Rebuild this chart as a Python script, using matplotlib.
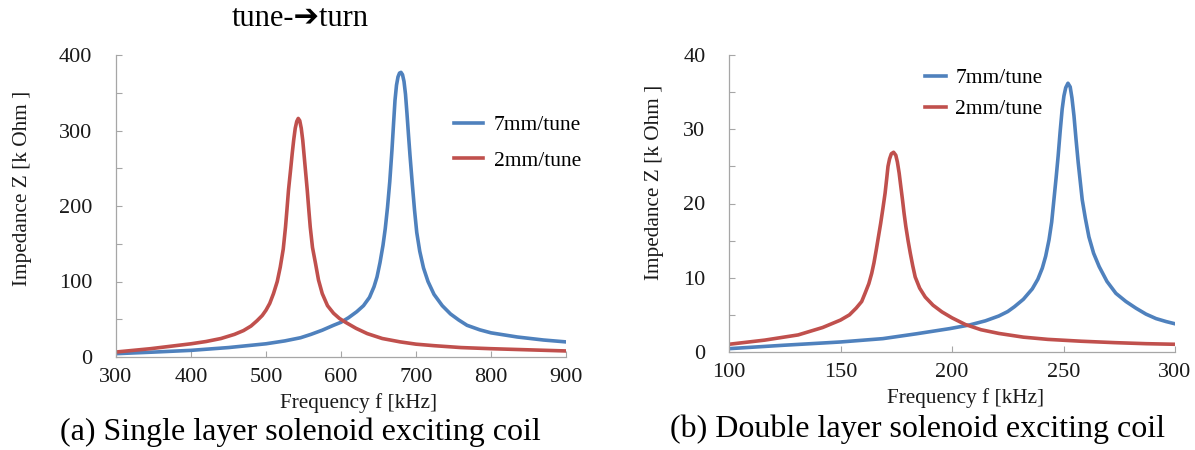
import matplotlib
matplotlib.use("Agg")
import matplotlib.pyplot as plt
from matplotlib.ticker import MultipleLocator

plt.rcParams['font.family'] = ['Liberation Serif', 'DejaVu Serif']

# (a) single layer coil, frequency in kHz, impedance in k Ohm
single_f_7mm = [300, 350, 400, 450, 500, 525, 546, 560, 575, 590, 600, 610, 621,
                630, 638, 644, 648, 652, 656, 659, 662, 665, 668, 670, 672, 674,
                676, 678, 680, 682, 684, 686, 688, 690, 692, 695, 698, 701, 705,
                710, 716, 724, 735, 746, 757, 768, 785, 800, 835, 870, 900]
single_z_7mm = [4.4, 6.5, 8.8, 12.5, 17.5, 21.3, 25.5, 30, 35.5, 42, 46, 52, 60,
                68, 79, 93, 106, 125, 148, 170, 198, 232, 275, 308, 340, 360,
                371, 376, 377, 374, 365, 348, 322, 294, 267, 230, 195, 165, 140,
                118, 100, 83, 68, 57, 49, 42, 36, 32, 26.5, 22.5, 20]

single_f_2mm = [300, 346, 400, 420, 440, 458, 470, 480, 488, 495, 500, 505, 510,
                515, 519, 523, 526, 528, 530, 533, 535, 537, 539, 541, 543, 545,
                547, 549, 551, 553, 555, 557, 559, 562, 566, 570, 575, 582, 590,
                598, 606, 620, 635, 655, 679, 700, 724, 760, 800, 850, 900]
single_z_2mm = [6.6, 11, 17.5, 20.5, 24.5, 30, 35, 41, 48, 55, 62, 71, 84, 100,
                119, 143, 172, 196, 221, 250, 270, 288, 303, 312, 316, 313, 303,
                287, 265, 243, 221, 196, 172, 145, 124, 102, 84, 68, 58, 51, 46,
                38, 31, 24.5, 20, 17, 15, 12.5, 11, 9.5, 8]

# (b) double layer coil
double_f_7mm = [100, 124, 150, 169, 184, 199, 208, 215, 221, 225, 228, 232, 236,
                238.5, 240.5, 242, 243.5, 244.7, 245.7, 246.7, 247.6, 248.5,
                249.4, 250.2, 251, 252, 253, 253.8, 254.7, 255.6, 256.6, 257.5,
                258.4, 259.8, 261.4, 263.5, 266, 269.5, 273.5, 278, 282.5, 287,
                291.5, 296, 300]
double_z_7mm = [0.45, 0.9, 1.35, 1.8, 2.45, 3.15, 3.65, 4.2, 4.85, 5.45, 6.1,
                7.1, 8.5, 9.8, 11.3, 12.9, 15.1, 17.5, 20.5, 23.5, 26.4, 29.7,
                32.7, 34.5, 35.6, 36.2, 35.7, 34.2, 31.8, 28.7, 25.5, 23, 20.5,
                18, 15.5, 13.3, 11.5, 9.5, 7.9, 6.8, 5.9, 5.1, 4.5, 4.1, 3.8]

double_f_2mm = [100, 116, 131, 142, 150, 154, 157, 159.5, 161, 162.7, 164, 165,
                166, 167, 168, 169, 170, 170.7, 171.3, 172, 172.8, 173.8, 174.8,
                175.5, 176.3, 177, 177.8, 178.5, 179.3, 180.3, 181.3, 182.4,
                183.5, 185.5, 188, 191.5, 195.5, 200, 206, 213, 221, 232, 243,
                258, 273, 287, 300]
double_z_2mm = [1.04, 1.6, 2.3, 3.3, 4.3, 5.0, 5.9, 6.8, 7.9, 9.2, 10.6, 12,
                13.7, 15.5, 17.3, 19.3, 21.4, 23.3, 25, 26, 26.7, 26.9, 26.5,
                25.6, 24.1, 22.4, 20.5, 18.7, 16.9, 15, 13.3, 11.6, 10.1, 8.6,
                7.4, 6.3, 5.4, 4.6, 3.7, 3.0, 2.5, 2.0, 1.7, 1.45, 1.26, 1.12,
                1.04]

labels = ['7mm/tune', '2mm/tune']
blue = '#4F81BD'
red = '#C0504D'
spine_gray = '#a6a6a6'
text_color = '#1a1a1a'

fig = plt.figure(figsize=(11.95, 4.5), dpi=100)
ax1 = fig.add_axes([116 / 1195, 93 / 450, 450 / 1195, 302 / 450])
ax2 = fig.add_axes([729 / 1195, 98 / 450, 446 / 1195, 297 / 450])


def style_axes(ax, xlim, xstep, ylim, ymajor, yminor):
    ax.set_xlim(*xlim)
    ax.set_ylim(*ylim)
    ax.xaxis.set_major_locator(MultipleLocator(xstep))
    ax.yaxis.set_major_locator(MultipleLocator(ymajor))
    ax.yaxis.set_minor_locator(MultipleLocator(yminor))
    for side in ['top', 'right']:
        ax.spines[side].set_visible(False)
    for side in ['left', 'bottom']:
        ax.spines[side].set_color(spine_gray)
        ax.spines[side].set_linewidth(0.9)
    ax.tick_params(axis='both', which='both', direction='in', length=4.5,
                   width=0.8, color=spine_gray, labelsize=16,
                   labelcolor=text_color)
    ax.tick_params(axis='y', which='both', pad=17)
    ax.tick_params(axis='x', pad=8)


def draw_panel(ax, f7, z7, f2, z2):
    ax.plot(f7, z7, color=blue, lw=2.6, label=labels[0],
            solid_joinstyle='round')
    ax.plot(f2, z2, color=red, lw=2.6, label=labels[1],
            solid_joinstyle='round')


draw_panel(ax1, single_f_7mm, single_z_7mm, single_f_2mm, single_z_2mm)
style_axes(ax1, (300, 900), 100, (0, 400), 100, 50)
ax1.legend(loc='upper left', bbox_to_anchor=(0.751, 0.80), frameon=False,
           fontsize=15.5, handlelength=1.35, handletextpad=0.5,
           labelspacing=0.7, borderpad=0, borderaxespad=0)

draw_panel(ax2, double_f_7mm, double_z_7mm, double_f_2mm, double_z_2mm)
style_axes(ax2, (100, 300), 50, (0, 40), 10, 5)
ax2.legend(loc='upper left', bbox_to_anchor=(0.44, 0.955), frameon=False,
           fontsize=15.5, handlelength=0.95, handletextpad=0.45,
           labelspacing=0.5, borderpad=0, borderaxespad=0)

# axis titles and captions
fig.text(359 / 1195, 1 - 403 / 450, 'Frequency f [kHz]', ha='center',
         va='center', fontsize=15.3, color=text_color)
fig.text(966 / 1195, 1 - 398 / 450, 'Frequency f [kHz]', ha='center',
         va='center', fontsize=15.3, color=text_color)
fig.text(23 / 1195, 1 - 188 / 450, 'Impedance Z [k Ohm ]', ha='center',
         va='center', rotation=90, fontsize=15.3, color=text_color)
fig.text(655 / 1195, 1 - 182 / 450, 'Impedance Z [k Ohm ]', ha='center',
         va='center', rotation=90, fontsize=15.3, color=text_color)

fig.text(300 / 1195, 1 - 432 / 450, '(a) Single layer solenoid exciting coil',
         ha='center', va='center', fontsize=23)
fig.text(918 / 1195, 1 - 429 / 450, '(b) Double layer solenoid exciting coil',
         ha='center', va='center', fontsize=23)
fig.text(300 / 1195, 1 - 19 / 450, 'tune-\u2794turn', ha='center',
         va='center', fontsize=22, family=['Liberation Serif', 'DejaVu Sans'])

fig.savefig('out.png', dpi=100)
